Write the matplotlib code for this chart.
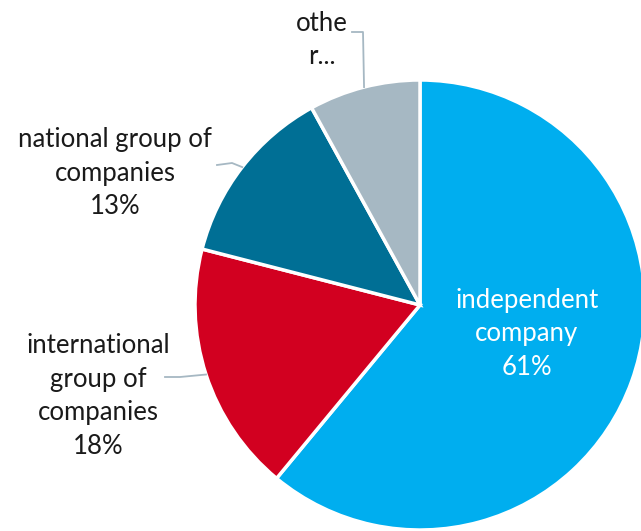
import matplotlib
matplotlib.use("Agg")
import matplotlib.pyplot as plt
import numpy as np

labels = ["independent\ncompany", "international\ngroup of\ncompanies",
          "national group of\ncompanies", "othe\nr..."]
shares = [61, 18, 13, 8]
colors = ["#00AEEF", "#D20020", "#006F95", "#A6B8C3"]

plt.rcParams['font.family'] = ['Lato', 'DejaVu Sans']

W, H = 641, 531
fig = plt.figure(figsize=(6.41, 5.31), dpi=100)
ax = fig.add_axes([0, 0, 1, 1])

def img(x, y):
    # image pixel coords (y down) -> axes data coords (y up)
    return x, H - y

cx, cy = img(420, 305)
r = 225
wedges, _ = ax.pie(shares, colors=colors, startangle=90, counterclock=False,
                   center=(cx, cy), radius=r, frame=True,
                   wedgeprops=dict(edgecolor='white', linewidth=2.5))
ax.set_xlim(0, W)
ax.set_ylim(0, H)
ax.set_aspect('equal')
ax.axis('off')

fs = 18.5
ls = 1.42
# inside label
ax.text(*img(527, 334), f"{labels[0]}\n{shares[0]}%", color='white',
        fontsize=fs, ha='center', va='center', linespacing=ls)

# outside labels: (text center, leader path points)
outside = {
    1: ((98, 396), [(180, 377), (165, 377)]),
    2: ((115, 173), [(232, 163), (217, 165)]),
    3: ((322, 40), [(363, 32), (352, 32)]),
}
for i, (pos, path) in outside.items():
    w = wedges[i]
    mid = np.deg2rad((w.theta1 + w.theta2) / 2)
    sx, sy = cx + r * np.cos(mid), cy + r * np.sin(mid)
    pts = [img(*p) for p in path]
    xs = [sx] + [p[0] for p in pts]
    ys = [sy] + [p[1] for p in pts]
    ax.plot(xs, ys, color='#A6B8C3', lw=1.3)
    txt = labels[i] if i == 3 else f"{labels[i]}\n{shares[i]}%"
    ax.text(*img(*pos), txt, color='#1a1a1a', fontsize=fs,
            ha='center', va='center', linespacing=ls)

fig.savefig("out.png", dpi=100)
